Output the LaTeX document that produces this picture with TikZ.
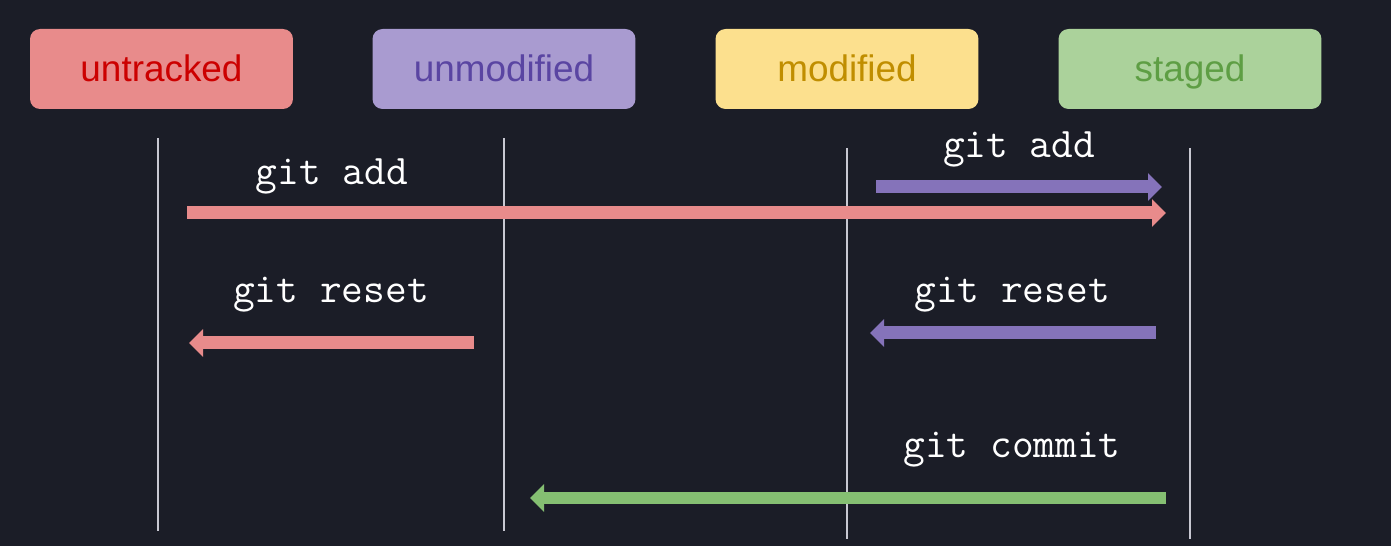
\documentclass[tikz,border=0pt]{standalone}
\usepackage{fontspec}
\setmainfont{Liberation Sans}
\usepackage{tikz}
\usetikzlibrary{arrows.meta}

\definecolor{bgdark}{HTML}{1B1D27}
\definecolor{lifegray}{HTML}{C8C8D2}
\definecolor{redfill}{HTML}{E88B8B}
\definecolor{redtext}{HTML}{CC0000}
\definecolor{purplefill}{HTML}{A99BD0}
\definecolor{purpletext}{HTML}{5A45A2}
\definecolor{yellowfill}{HTML}{FCE08E}
\definecolor{yellowtext}{HTML}{C08E00}
\definecolor{greenfill}{HTML}{ABD29B}
\definecolor{greentext}{HTML}{5E9E44}
\definecolor{purplearrow}{HTML}{8573BA}
\definecolor{greenarrow}{HTML}{85BF72}

\begin{document}
\begin{tikzpicture}[x=0.02cm, y=-0.02cm,
  state/.style={rounded corners=0.2cm, minimum width=5.26cm, minimum height=1.6cm, inner sep=0pt, text height=16pt, text depth=1.5pt, font=\fontsize{21}{24}\selectfont},
  lifeline/.style={lifegray, line width=1.1pt},
  cmd/.style={line width=0.26cm, -{Triangle[width=0.54cm, length=0.28cm]}},
  cmdlabel/.style={text=white, font=\ttfamily\fontsize{24}{28}\selectfont}]

% Draw the background
\fill[bgdark] (0,0) rectangle (1391,546);
\useasboundingbox (0,0) rectangle (1391,546);

% Define the states
\node[state, fill=redfill, text=redtext] (untracked) at (161.5,69) {untracked};
\node[state, fill=purplefill, text=purpletext] (unmodified) at (504,69) {unmodified};
\node[state, fill=yellowfill, text=yellowtext] (modified) at (847,69) {modified};
\node[state, fill=greenfill, text=greentext] (staged) at (1190,69) {staged};

% Draw the lifelines
\draw[lifeline] (158,138) -- (158,531);
\draw[lifeline] (504,138) -- (504,531);
\draw[lifeline] (847,148) -- (847,539);
\draw[lifeline] (1190,148) -- (1190,539);

% Place the end points of the arrows
\coordinate (addA) at (187,213);
\coordinate (addB) at (1166,213);
\coordinate (addC) at (876,187);
\coordinate (addD) at (1162,187);
\coordinate (resetA) at (474,343);
\coordinate (resetB) at (189,343);
\coordinate (resetC) at (1156,333);
\coordinate (resetD) at (870,333);
\coordinate (commitA) at (1166,498);
\coordinate (commitB) at (530,498);

% Draw the arrows
\draw[cmd, redfill] (addA) -- (addB);
\draw[cmd, purplearrow] (addC) -- (addD);
\draw[cmd, redfill] (resetA) -- (resetB);
\draw[cmd, purplearrow] (resetC) -- (resetD);
\draw[cmd, greenarrow] (commitA) -- (commitB);

% Label the arrows
\node[cmdlabel] (addleft) at (332,176) {git add};
\node[cmdlabel] (addright) at (1019,149) {git add};
\node[cmdlabel] (resetleft) at (331,295) {git reset};
\node[cmdlabel] (resetright) at (1012,295) {git reset};
\node[cmdlabel] (commit) at (1012,450) {git commit};

\end{tikzpicture}
\end{document}
